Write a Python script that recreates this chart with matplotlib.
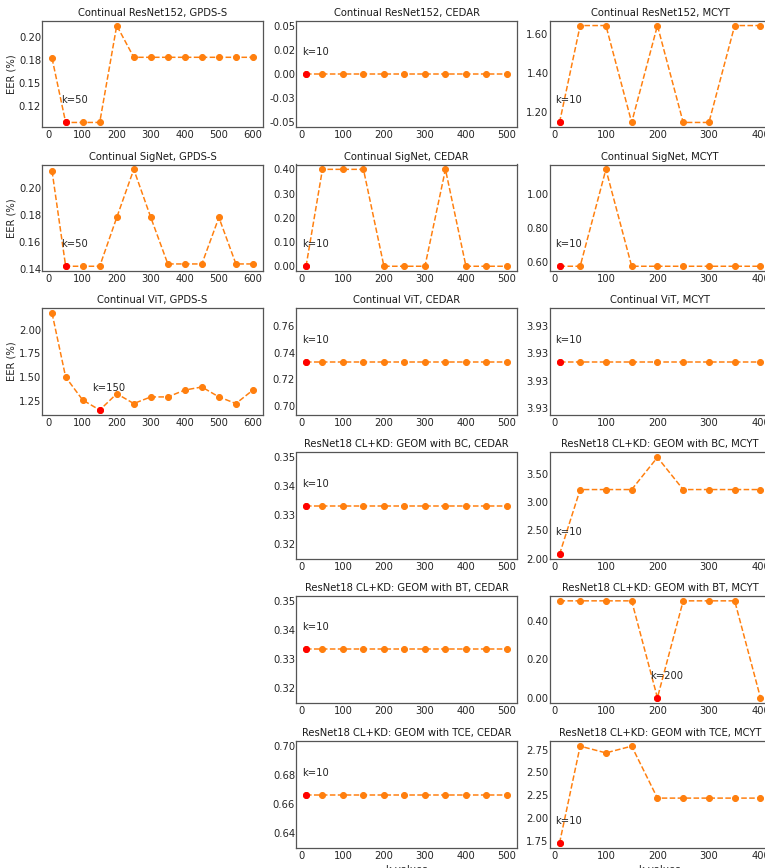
import matplotlib
matplotlib.use("Agg")
import matplotlib.pyplot as plt
from matplotlib.ticker import FormatStrFormatter

# k values per dataset
k_gpds = [10, 50, 100, 150, 200, 250, 300, 350, 400, 450, 500, 550, 600]
k_cedar = [10, 50, 100, 150, 200, 250, 300, 350, 400, 450, 500]
k_mcyt = [10, 50, 100, 150, 200, 250, 300, 350, 400]

# EER (%)
resnet152_gpds = [0.177, 0.1068, 0.1068, 0.1068, 0.2127, 0.178, 0.178, 0.178, 0.178, 0.178, 0.178, 0.178, 0.178]
resnet152_cedar = [0.0, 0.0, 0.0, 0.0, 0.0, 0.0, 0.0, 0.0, 0.0, 0.0, 0.0]
resnet152_mcyt = [1.145, 1.646, 1.646, 1.145, 1.646, 1.145, 1.145, 1.646, 1.646]

signet_gpds = [0.2123, 0.142, 0.142, 0.142, 0.178, 0.2135, 0.178, 0.1437, 0.1437, 0.1437, 0.178, 0.1437, 0.1437]
signet_cedar = [0.0, 0.4, 0.4, 0.4, 0.0, 0.0, 0.0, 0.4, 0.0, 0.0, 0.0]
signet_mcyt = [0.572, 0.572, 1.148, 0.572, 0.572, 0.572, 0.572, 0.572, 0.572]

vit_gpds = [2.177, 1.50, 1.257, 1.151, 1.324, 1.22, 1.29, 1.29, 1.363, 1.395, 1.29, 1.22, 1.363]
vit_cedar = [0.7333, 0.7333, 0.7333, 0.7333, 0.7333, 0.7333, 0.7333, 0.7333, 0.7333, 0.7333, 0.7333]
vit_mcyt = [3.93334, 3.93334, 3.93334, 3.93334, 3.93334, 3.93334, 3.93334, 3.93334, 3.93334]

bc_cedar = [0.3333, 0.3333, 0.3333, 0.3333, 0.3333, 0.3333, 0.3333, 0.3333, 0.3333, 0.3333, 0.3333]
bc_mcyt = [2.077, 3.224, 3.224, 3.224, 3.795, 3.224, 3.224, 3.224, 3.224]
bt_cedar = [0.3333, 0.3333, 0.3333, 0.3333, 0.3333, 0.3333, 0.3333, 0.3333, 0.3333, 0.3333, 0.3333]
bt_mcyt = [0.504, 0.504, 0.504, 0.504, 0.0, 0.504, 0.504, 0.504, 0.0]
tce_cedar = [0.6667, 0.6667, 0.6667, 0.6667, 0.6667, 0.6667, 0.6667, 0.6667, 0.6667, 0.6667, 0.6667]
tce_mcyt = [1.724, 2.787, 2.713, 2.787, 2.217, 2.217, 2.217, 2.217, 2.217]

# (row, col, title, k, values)
panels = [
    (0, 0, "Continual ResNet152, GPDS-S", k_gpds, resnet152_gpds),
    (0, 1, "Continual ResNet152, CEDAR", k_cedar, resnet152_cedar),
    (0, 2, "Continual ResNet152, MCYT", k_mcyt, resnet152_mcyt),
    (1, 0, "Continual SigNet, GPDS-S", k_gpds, signet_gpds),
    (1, 1, "Continual SigNet, CEDAR", k_cedar, signet_cedar),
    (1, 2, "Continual SigNet, MCYT", k_mcyt, signet_mcyt),
    (2, 0, "Continual ViT, GPDS-S", k_gpds, vit_gpds),
    (2, 1, "Continual ViT, CEDAR", k_cedar, vit_cedar),
    (2, 2, "Continual ViT, MCYT", k_mcyt, vit_mcyt),
    (3, 1, "ResNet18 CL+KD: GEOM with BC, CEDAR", k_cedar, bc_cedar),
    (3, 2, "ResNet18 CL+KD: GEOM with BC, MCYT", k_mcyt, bc_mcyt),
    (4, 1, "ResNet18 CL+KD: GEOM with BT, CEDAR", k_cedar, bt_cedar),
    (4, 2, "ResNet18 CL+KD: GEOM with BT, MCYT", k_mcyt, bt_mcyt),
    (5, 1, "ResNet18 CL+KD: GEOM with TCE, CEDAR", k_cedar, tce_cedar),
    (5, 2, "ResNet18 CL+KD: GEOM with TCE, MCYT", k_mcyt, tce_mcyt),
]

W, H = 765, 868
col_left = [42, 296, 549.5]
row_top = [20.7, 164.5, 308.3, 452.5, 596, 741.3]
ax_w, ax_h = 221, 106.6

plt.rcParams["font.family"] = "DejaVu Sans"
plt.rcParams["font.size"] = 10

fig = plt.figure(figsize=(W / 72, H / 72), dpi=72)

for row, col, title, ks, vals in panels:
    rect = [col_left[col] / W, 1 - (row_top[row] + ax_h) / H, ax_w / W, ax_h / H]
    ax = fig.add_axes(rect)
    ax.plot(ks, vals, "o--", color="#ff7f0e", markersize=6, linewidth=1.5)

    best = min(range(len(vals)), key=lambda i: vals[i])
    ax.plot(ks[best], vals[best], "o", color="red", markersize=6)
    ax.annotate(f"k={ks[best]}", (ks[best], vals[best]), xytext=(9, 22),
                textcoords="offset points", ha="center", va="center",
                color="#262626", fontsize=10)

    if title == "Continual ViT, MCYT":
        ax.set_ylim(3.932946, 3.933734)

    ax.set_title(title, fontsize=10, color="#1a1a1a", pad=5)
    ax.yaxis.set_major_formatter(FormatStrFormatter("%.2f"))
    ax.tick_params(length=0, labelsize=10, labelcolor="#262626")
    ax.tick_params(axis="y", pad=1)
    ax.tick_params(axis="x", pad=3)
    for sp in ax.spines.values():
        sp.set_color("#555555")
        sp.set_linewidth(1.25)

    if col == 0:
        ax.set_ylabel("EER (%)", color="#262626", labelpad=2)
    if row == 5:
        ax.set_xlabel("k values", color="#262626")

fig.savefig("out.png", dpi=72)
